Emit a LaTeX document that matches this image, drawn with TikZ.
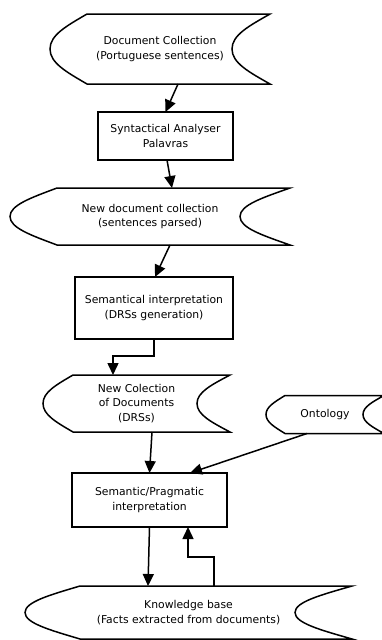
\documentclass[tikz,border=0pt]{standalone}
\usepackage{fontspec}
\setmainfont{DejaVu Sans}
\usetikzlibrary{arrows.meta,calc}
\tikzset{
  shp/.style={line width=1.5pt, line join=miter},
  boxnode/.style={draw, line width=1.5pt, inner sep=0pt, outer sep=0pt, align=center,
    font=\fontsize{10.8}{14.5}\selectfont},
  docnode/.style={inner sep=0pt, outer sep=0pt, align=center,
    font=\fontsize{10.8}{14.5}\selectfont},
  conn/.style={line width=1.5pt, -{Triangle[length=12pt,width=11pt]}}
}
% #1 name, #2 width, #3 height, #4 left bulge depth, #5 right concave depth
\newcommand\storedoutline[5]{%
  \begin{scope}[shift={(#1.north west)}]
  \draw[shp] (#4,0) -- (#2,0)
    .. controls ({#2-0.55*#5},{0.17*#3}) and ({#2-#5},{0.3*#3}) .. ({#2-#5},{0.5*#3})
    .. controls ({#2-#5},{0.7*#3}) and ({#2-0.55*#5},{0.83*#3}) .. (#2,#3)
    -- (#4,#3)
    .. controls ({0.45*#4},{0.83*#3}) and (0,{0.7*#3}) .. (0,{0.5*#3})
    .. controls (0,{0.3*#3}) and ({0.45*#4},{0.17*#3}) .. cycle;
  \end{scope}}
\begin{document}
\begin{tikzpicture}[x=1pt,y=-1pt]
\useasboundingbox (0,0) rectangle (382,640);
% stored-data shapes
\node[docnode, minimum width=220pt, minimum height=70pt] (s1) at (160,49)
  {Document Collection\\(Portuguese sentences)};
\storedoutline{s1}{220}{70}{37}{38}
\node[docnode, minimum width=280pt, minimum height=57pt] (s2) at (150,216.5)
  {New document collection\\(sentences parsed)};
\storedoutline{s2}{280}{57}{47}{50}
\node[docnode, minimum width=187pt, minimum height=57pt] (s3) at (136.5,403.5)
  {New Colection\\of Documents\\(DRSs)};
\storedoutline{s3}{187}{57}{30}{33}
\node[docnode, minimum width=118pt, minimum height=38pt] (ont) at (325,414.5)
  {Ontology};
\storedoutline{ont}{118}{38}{19}{21}
\node[docnode, minimum width=327pt, minimum height=53pt] (s4) at (188.5,612.5)
  {Knowledge base\\(Facts extracted from documents)};
\storedoutline{s4}{327}{53}{55}{57}
% process boxes
\node[boxnode, minimum width=135pt, minimum height=48pt] (b1) at (165.5,136)
  {Syntactical Analyser\\Palavras};
\node[boxnode, minimum width=158pt, minimum height=62pt] (b2) at (154,308)
  {Semantical interpretation\\(DRSs generation)};
\node[boxnode, minimum width=155pt, minimum height=54pt] (b3) at (149.5,500)
  {Semantic/Pragmatic\\interpretation};
% connectors
\draw[conn] ([xshift=18pt]s1.south) -- (b1.north);
\draw[conn] ([xshift=1.5pt]b1.south) -- ([xshift=22pt]s2.north);
\draw[conn] ([xshift=20pt]s2.south) -- ([xshift=1pt]b2.north);
\draw[conn] (b2.south) -- ++(0,17) -| ([xshift=-23.5pt]s3.north);
\draw[conn] ([xshift=15.5pt]s3.south) -- (b3.north);
\draw[conn] ([xshift=-18pt]ont.south) -- ([xshift=40.5pt]b3.north);
\draw[conn] (b3.south) -- ([xshift=-40.5pt]s4.north);
\draw[conn] ([xshift=25.5pt]s4.north) -- ++(0,-29) -| ([xshift=38.5pt]b3.south);
\end{tikzpicture}
\end{document}
